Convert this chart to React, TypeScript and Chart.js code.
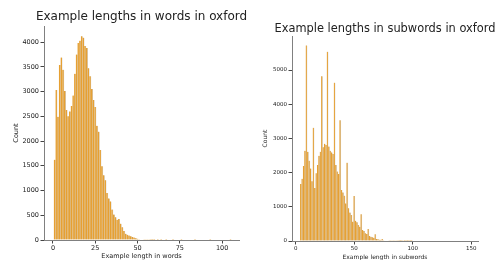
import React, { useEffect, useRef } from 'react';
import { Chart, registerables } from 'chart.js';

Chart.register(...registerables);

// ---- data: words (one bin per word length) ----
const WORD_LENGTHS = [
  1, 2, 3, 4, 5, 6, 7, 8, 9, 10, 11, 12, 13, 14, 15, 16, 17, 18, 19, 20,
  21, 22, 23, 24, 25, 26, 27, 28, 29, 30, 31, 32, 33, 34, 35, 36, 37, 38, 39, 40,
  41, 42, 43, 44, 45, 46, 47, 48, 49, 50, 51, 52, 53, 54, 55, 56, 57, 58, 59, 60,
  62, 64, 67, 71, 76, 84, 93, 105,
];
const WORD_COUNTS = [
  1620, 3030, 2490, 3540, 3690, 3440, 3010, 2630, 2500, 2600, 2710, 2920, 3360, 3750, 3980, 4030, 4120, 4090, 3920, 3880,
  3470, 3310, 3050, 2830, 2690, 2310, 2190, 1820, 1490, 1310, 1210, 950, 840, 780, 615, 515, 460, 410, 425, 330,
  260, 180, 125, 105, 90, 75, 60, 50, 35, 25, 15, 10, 8, 6, 5, 4, 3, 2, 2, 1,
  1, 1, 1, 1, 1, 1, 1, 1,
];
const WORD_X_TICKS = [0, 25, 50, 75, 100];
const WORD_Y_TICKS = [0, 500, 1000, 1500, 2000, 2500, 3000, 3500, 4000];

// ---- data: subwords (bins of 1.2 subwords) ----
const SUBWORD_FIRST_BIN_CENTER = 4.3;
const SUBWORD_BIN_WIDTH = 1.2;
const SUBWORD_COUNTS = [
  1667, 1820, 2190, 2640, 5720, 2610, 2350, 2120, 1750, 3310,
  1550, 1980, 2220, 2490, 2610, 4820, 2740, 2845, 2810, 5535,
  2760, 2640, 2590, 2545, 4630, 2220, 2030, 1960, 3530, 1490,
  1420, 1325, 1100, 2290, 955, 830, 760, 565, 1315, 590,
  545, 470, 420, 780, 320, 290, 225, 205, 350, 145,
  125, 108, 95, 195, 60, 50, 40, 35, 55, 20,
  18, 15, 12, 20, 8, 7, 6, 5, 8, 4,
  3, 3, 2, 4, 2, 2, 1, 1, 2, 1,
];
const SUBWORD_X_TICKS = [0, 50, 100, 150];
const SUBWORD_Y_TICKS = [0, 1000, 2000, 3000, 4000, 5000];

const FILL = 'rgb(230, 160, 50)';
const EDGE = 'rgba(205, 205, 205, 0.9)';
const SPINE = '#808080';
const TICK_COLOR = '#444';
const TEXT_COLOR = '#222';
const FONT = 'DejaVu Sans';

type TextSpec = { text: string; x: number; y: number; size: number; rotate?: boolean };

type PanelSpec = {
  left: number;
  width: number;
  xs: number[];
  ys: number[];
  xMin: number;
  xMax: number;
  yMax: number;
  xTicks: number[];
  yTicks: number[];
  yAxisWidth: number;
  xAxisHeight: number;
  padTop: number;
  padRight: number;
  tickFont: number;
  texts: TextSpec[];
};

const subwordCenters = SUBWORD_COUNTS.map((_, i) => SUBWORD_FIRST_BIN_CENTER + i * SUBWORD_BIN_WIDTH);

const PANELS: PanelSpec[] = [
  {
    left: 0,
    width: 249,
    xs: WORD_LENGTHS,
    ys: WORD_COUNTS,
    xMin: -5.3,
    xMax: 110,
    yMax: 4326,
    xTicks: WORD_X_TICKS,
    yTicks: WORD_Y_TICKS,
    yAxisWidth: 44,
    xAxisHeight: 20,
    padTop: 26,
    padRight: 10,
    tickFont: 6.5,
    texts: [
      { text: 'Example lengths in words in oxford', x: 141.5, y: 17, size: 12 },
      { text: 'Example length in words', x: 141.5, y: 256.5, size: 6.5 },
      { text: 'Count', x: 16, y: 133, size: 6.5, rotate: true },
    ],
  },
  {
    left: 249,
    width: 248,
    xs: subwordCenters,
    ys: SUBWORD_COUNTS,
    xMin: -3.2,
    xMax: 155.7,
    yMax: 5995,
    xTicks: SUBWORD_X_TICKS,
    yTicks: SUBWORD_Y_TICKS,
    yAxisWidth: 43,
    xAxisHeight: 19,
    padTop: 36,
    padRight: 19,
    tickFont: 5.5,
    texts: [
      { text: 'Example lengths in subwords in oxford', x: 136, y: 29, size: 11.4 },
      { text: 'Example length in subwords', x: 136, y: 257, size: 6 },
      { text: 'Count', x: 16, y: 138.5, size: 6, rotate: true },
    ],
  },
];

function Panel({ spec }: { spec: PanelSpec }) {
  const ref = useRef<HTMLCanvasElement | null>(null);
  useEffect(() => {
    if (!ref.current) return;
    const textPlugin = {
      id: 'panelTexts',
      afterDraw(chart: any) {
        const ctx = chart.ctx;
        ctx.save();
        ctx.fillStyle = TEXT_COLOR;
        ctx.textAlign = 'center';
        ctx.textBaseline = 'middle';
        for (const t of spec.texts) {
          ctx.font = `${t.size}px "${FONT}"`;
          if (t.rotate) {
            ctx.save();
            ctx.translate(t.x, t.y);
            ctx.rotate(-Math.PI / 2);
            ctx.fillText(t.text, 0, 0);
            ctx.restore();
          } else {
            ctx.fillText(t.text, t.x, t.y);
          }
        }
        ctx.restore();
      },
    };
    const keep = (list: number[]) => (scale: any) => {
      scale.ticks = list.map((v) => ({ value: v }));
    };
    const plain = (v: any) => String(v);
    const chart = new Chart(ref.current, {
      type: 'bar',
      data: {
        datasets: [
          {
            data: spec.xs.map((x, i) => ({ x, y: spec.ys[i] })),
            backgroundColor: FILL,
            borderColor: EDGE,
            borderWidth: { top: 0, left: 0, bottom: 0, right: 0.6 },
            borderSkipped: false,
            barPercentage: 1,
            categoryPercentage: 1,
          } as any,
        ],
      },
      options: {
        responsive: false,
        animation: false,
        devicePixelRatio: 1,
        layout: { padding: { left: 0, top: spec.padTop, right: spec.padRight, bottom: 0 } },
        plugins: {
          legend: { display: false },
          tooltip: { enabled: false },
          title: { display: false },
        },
        scales: {
          x: {
            type: 'linear',
            min: spec.xMin,
            max: spec.xMax,
            offset: false,
            afterBuildTicks: keep(spec.xTicks),
            afterFit: (s: any) => {
              s.height = spec.xAxisHeight;
            },
            grid: {
              display: true,
              drawOnChartArea: false,
              drawTicks: true,
              tickLength: 3.5,
              color: TICK_COLOR,
              offset: false,
            },
            border: { display: true, color: SPINE, width: 1 },
            ticks: {
              font: { family: FONT, size: spec.tickFont },
              color: TEXT_COLOR,
              padding: 1,
              maxRotation: 0,
              autoSkip: false,
              callback: plain,
            },
          },
          y: {
            type: 'linear',
            min: 0,
            max: spec.yMax,
            afterBuildTicks: keep(spec.yTicks),
            afterFit: (s: any) => {
              s.width = spec.yAxisWidth;
            },
            grid: {
              display: true,
              drawOnChartArea: false,
              drawTicks: true,
              tickLength: 3.5,
              color: TICK_COLOR,
            },
            border: { display: true, color: SPINE, width: 1 },
            ticks: {
              font: { family: FONT, size: spec.tickFont },
              color: TEXT_COLOR,
              padding: 1.5,
              autoSkip: false,
              callback: plain,
            },
          },
        },
      } as any,
      plugins: [textPlugin],
    });
    return () => chart.destroy();
  }, [spec]);
  return (
    <canvas
      ref={ref}
      width={spec.width}
      height={260}
      style={{ position: 'absolute', left: spec.left, top: 0, width: spec.width, height: 260 }}
    />
  );
}

export default function App() {
  return (
    <div style={{ position: 'fixed', left: 0, top: 0, width: 497, height: 260, background: '#fff' }}>
      {PANELS.map((p, i) => (
        <Panel key={i} spec={p} />
      ))}
    </div>
  );
}
